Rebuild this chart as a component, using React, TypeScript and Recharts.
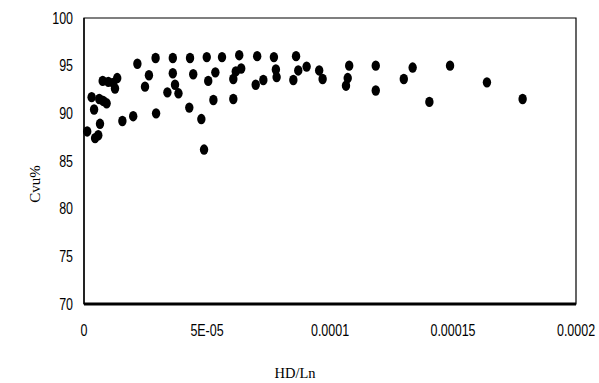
import React from 'react';
import { ScatterChart, Scatter, XAxis, YAxis, ReferenceArea, Label } from 'recharts';

const hdLn: number[] = [
  1.3e-6, 3.1e-6, 4.1e-6, 4.5e-6, 5.8e-6, 6.5e-6, 6.2e-6, 7.8e-6, 9.2e-6, 7.6e-6,
  9.9e-6, 11.9e-6, 13.5e-6, 12.6e-6, 15.6e-6, 20.0e-6, 21.7e-6, 24.8e-6, 26.4e-6, 29.1e-6,
  29.3e-6, 33.9e-6, 36.1e-6, 36.1e-6, 37.0e-6, 38.4e-6, 42.8e-6, 43.1e-6, 44.4e-6, 47.7e-6,
  48.8e-6, 49.9e-6, 50.5e-6, 52.6e-6, 53.4e-6, 56.1e-6, 60.7e-6, 60.7e-6, 61.7e-6, 63.1e-6,
  63.9e-6, 69.8e-6, 70.4e-6, 72.9e-6, 77.2e-6, 78.0e-6, 78.3e-6, 85.1e-6, 86.2e-6, 87.1e-6,
  90.5e-6, 95.6e-6, 97.0e-6, 107.8e-6, 107.2e-6, 106.5e-6, 118.6e-6, 118.6e-6, 130.0e-6, 133.6e-6,
  140.4e-6, 148.8e-6, 163.8e-6, 178.3e-6,
];

const cvu: number[] = [
  88.1, 91.7, 90.4, 87.4, 87.7, 88.9, 91.5, 91.3, 91.05, 93.4,
  93.3, 93.2, 93.7, 92.6, 89.2, 89.7, 95.2, 92.8, 94.0, 95.8,
  90.0, 92.2, 95.8, 94.2, 93.0, 92.1, 90.6, 95.8, 94.1, 89.4,
  86.2, 95.9, 93.4, 91.4, 94.3, 95.9, 91.5, 93.6, 94.4, 96.1,
  94.7, 93.0, 96.0, 93.5, 95.9, 94.6, 93.8, 93.5, 96.0, 94.5,
  94.9, 94.5, 93.6, 95.0, 93.7, 92.9, 95.0, 92.4, 93.6, 94.8,
  91.2, 95.0, 93.25, 91.5,
];

const xTicks: number[] = [0, 0.00005, 0.0001, 0.00015, 0.0002];
const xTickLabels: string[] = ['0', '5E-05', '0.0001', '0.00015', '0.0002'];
const yTicks: number[] = [70, 75, 80, 85, 90, 95, 100];

const data = hdLn.map((x, i) => ({ x, y: cvu[i] }));

const TICK_FONT = '"Liberation Sans", Arial, sans-serif';

const XTick = (props: any) => {
  const { x, y, payload } = props;
  const v = payload?.value;
  const idx = xTicks.indexOf(v);
  const label = idx >= 0 ? xTickLabels[idx] : String(v);
  return (
    <g transform={`translate(${x},${y})`}>
      <text
        transform="scale(0.78,1)"
        x={0}
        y={0}
        dy={12}
        textAnchor="middle"
        fontFamily={TICK_FONT}
        fontSize={16}
        fill="#000"
      >
        {label}
      </text>
    </g>
  );
};

const YTick = (props: any) => {
  const { x, y, payload } = props;
  return (
    <g transform={`translate(${x},${y})`}>
      <text
        transform="scale(0.78,1)"
        x={0}
        y={0}
        dy={5.5}
        textAnchor="end"
        fontFamily={TICK_FONT}
        fontSize={16}
        fill="#000"
      >
        {String(payload?.value)}
      </text>
    </g>
  );
};

const Dot = (props: any) => {
  const { cx, cy } = props;
  if (cx == null || cy == null) return null;
  return <ellipse cx={cx} cy={cy} rx={4.2} ry={5.2} fill="#000" />;
};

export default function App() {
  return (
    <div style={{ position: 'absolute', left: 0, top: 0, width: 599, height: 383, background: '#fff' }}>
      <ScatterChart width={599} height={383} margin={{ top: 18, right: 23, bottom: 0, left: 0 }}>
        <ReferenceArea
          x1={0}
          x2={0.0002}
          y1={70}
          y2={100}
          fill="none"
          stroke="#000"
          strokeWidth={1.2}
          ifOverflow="visible"
        />
        <XAxis
          type="number"
          dataKey="x"
          domain={[0, 0.0002]}
          ticks={xTicks}
          height={79}
          tickLine={false}
          tickSize={0}
          tickMargin={20}
          axisLine={{ stroke: '#000', strokeWidth: 3 }}
          tick={<XTick />}
          interval={0}
        >
          <Label
            content={(p: any) => {
              const vb = p.viewBox || {};
              return (
                <text
                  x={vb.x + vb.width / 2 - 35}
                  y={vb.y + 74}
                  textAnchor="middle"
                  fontFamily='"Liberation Serif", "Times New Roman", serif'
                  fontSize={14.5}
                  fill="#000"
                >
                  HD/Ln
                </text>
              );
            }}
          />
        </XAxis>
        <YAxis
          type="number"
          dataKey="y"
          domain={[70, 100]}
          ticks={yTicks}
          width={84}
          tickLine={false}
          tickSize={0}
          tickMargin={11}
          axisLine={{ stroke: '#000', strokeWidth: 1.3 }}
          tick={<YTick />}
          interval={0}
        >
          <Label
            content={(p: any) => {
              const vb = p.viewBox || {};
              const cx = 40;
              const cy = vb.y + vb.height / 2 + 23;
              return (
                <text
                  x={cx}
                  y={cy}
                  transform={`rotate(-90 ${cx} ${cy})`}
                  textAnchor="middle"
                  fontFamily='"Liberation Serif", "Times New Roman", serif'
                  fontSize={15}
                  fill="#000"
                >
                  Cvu%
                </text>
              );
            }}
          />
        </YAxis>
        <Scatter data={data} shape={Dot} isAnimationActive={false} />
      </ScatterChart>
    </div>
  );
}
